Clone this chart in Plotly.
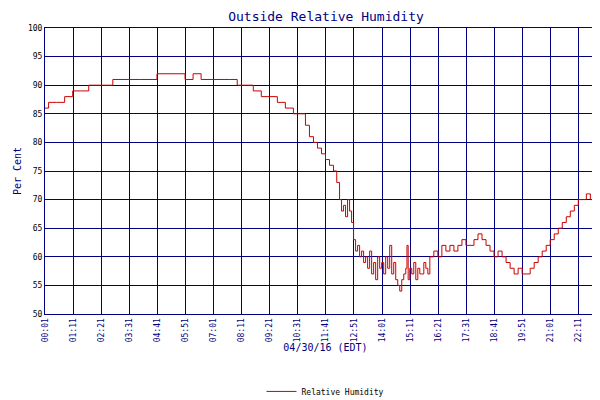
import plotly.graph_objects as go

# minutes after midnight and relative humidity (%)
minutes = [1, 10, 30, 50, 70, 90, 110, 150, 170, 240, 280, 300, 330, 350, 370, 390, 460,
           480, 500, 520, 540, 560, 580, 600, 620, 640, 650, 660, 670, 680, 690, 700, 710,
           720, 728, 735, 740, 745, 750, 755, 760, 765, 770, 775, 780, 785, 790, 795, 800,
           805, 810, 815, 820, 825, 830, 835, 840, 845, 850, 855, 860, 865, 870, 875, 880,
           885, 890, 895, 900, 903, 906, 910, 915, 920, 925, 930, 935, 940, 945, 950, 955,
           960, 970, 980, 990, 1000, 1010, 1020, 1030, 1040, 1050, 1060, 1070, 1080, 1090,
           1100, 1110, 1120, 1130, 1140, 1150, 1160, 1170, 1180, 1190, 1200, 1210, 1220,
           1230, 1240, 1250, 1260, 1270, 1280, 1290, 1300, 1310, 1320, 1330, 1340, 1350,
           1360, 1380, 1399]
humidity = [86, 87, 87, 88, 89, 89, 90, 90, 91, 91, 92, 92, 92, 91, 92, 91, 91,
            90, 90, 89, 88, 88, 87, 86, 85, 85, 83, 81, 80, 79, 78, 77, 76,
            75, 73, 70, 68, 69, 67, 70, 68, 66, 63, 61, 62, 60, 61, 59, 60,
            58, 61, 57, 59, 56, 60, 58, 59, 57, 60, 58, 62, 57, 59, 56, 55,
            54, 56, 57, 58, 62, 56, 58, 57, 59, 56, 58, 57, 57, 59, 58, 57,
            60, 61, 60, 62, 61, 62, 61, 62, 63, 62, 62, 63, 64, 63, 62,
            61, 60, 61, 60, 59, 58, 57, 58, 57, 57, 58, 59, 60, 61, 62,
            63, 64, 65, 66, 67, 68, 69, 70, 70, 71, 70, 71, 71, 72, 72]

tick_vals = [1 + 70 * k for k in range(20)] + [1399]
tick_text = ["00:01", "01:11", "02:21", "03:31", "04:41", "05:51", "07:01", "08:11",
             "09:21", "10:31", "11:41", "12:51", "14:01", "15:11", "16:21", "17:31",
             "18:41", "19:51", "21:01", "22:11", "00:19"]

navy = "#000080"
font = "DejaVu Sans Mono"

fig = go.Figure()
fig.add_trace(go.Scatter(x=minutes, y=humidity, mode="lines", line_shape="hv",
                         line=dict(color="#cc0000", width=1), name="Relative Humidity"))

fig.update_layout(
    width=600, height=400,
    paper_bgcolor="white", plot_bgcolor="white",
    margin=dict(l=37, r=2, t=20, b=63),
    font=dict(family=font, size=9, color=navy),
    title=dict(text="Outside Relative Humidity", x=0.53, y=0.99, yanchor="top",
               font=dict(family=font, size=13, color=navy)),
    showlegend=True,
    legend=dict(orientation="h", x=0.5, xanchor="center", y=-0.22, yanchor="top",
                font=dict(size=8, color="black"), itemwidth=30),
)
fig.update_xaxes(range=[1, 1399], tickvals=tick_vals, ticktext=tick_text, tickangle=-90,
                 automargin=False,
                 showgrid=True, gridcolor=navy, gridwidth=1, showline=True,
                 linecolor=navy, mirror=True, zeroline=False, tickfont=dict(size=8),
                 title=dict(text="04/30/16 (EDT)", font=dict(size=10), standoff=2))
fig.update_yaxes(range=[50, 100], dtick=5, showgrid=True, gridcolor=navy, gridwidth=1,
                 automargin=False,
                 showline=True, linecolor=navy, mirror=True, zeroline=False,
                 tickfont=dict(size=8, color="black"),
                 title=dict(text="Per Cent", font=dict(size=10), standoff=4))

fig.write_html("out.html")
